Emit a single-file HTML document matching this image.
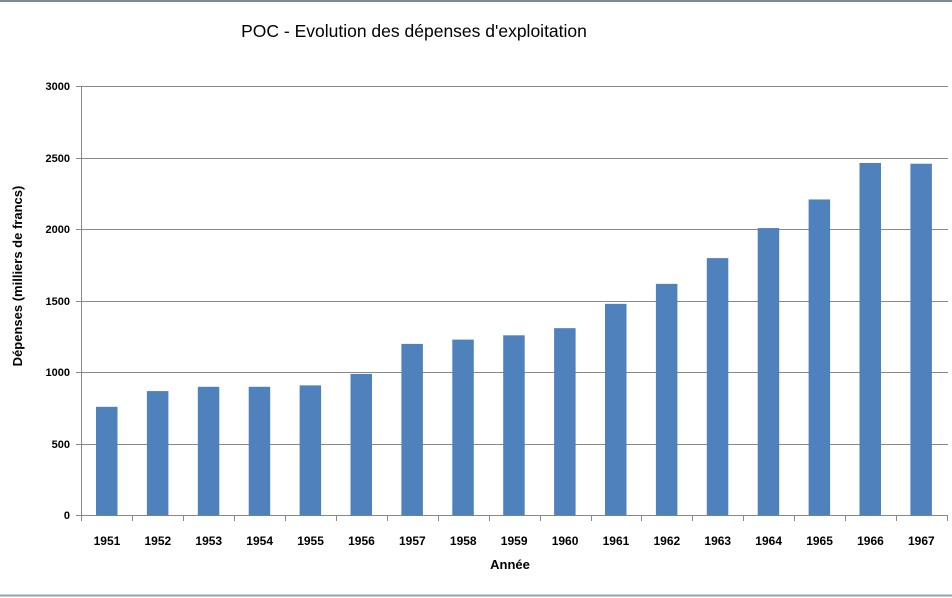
<!DOCTYPE html>
<html><head><meta charset="utf-8"><style>
html,body{margin:0;padding:0;background:#fff;}
svg{display:block;font-family:"Liberation Sans","DejaVu Sans",sans-serif;}
</style></head><body>
<svg width="952" height="598" viewBox="0 0 952 598" xmlns="http://www.w3.org/2000/svg">
<rect width="952" height="598" fill="#fff"/>
<line x1="0" y1="1" x2="952" y2="1" stroke="#7a8a99" stroke-width="2"/>
<line x1="0" y1="595.5" x2="952" y2="595.5" stroke="#8fa3b0" stroke-width="2"/>
<text x="414" y="37" font-size="17.5" text-anchor="middle" fill="#000">POC - Evolution des dépenses d'exploitation</text>
<g stroke="#888" stroke-width="1">
<line x1="76" y1="86.5" x2="948" y2="86.5"/>
<line x1="76" y1="158.5" x2="948" y2="158.5"/>
<line x1="76" y1="229.5" x2="948" y2="229.5"/>
<line x1="76" y1="301.5" x2="948" y2="301.5"/>
<line x1="76" y1="372.5" x2="948" y2="372.5"/>
<line x1="76" y1="444.5" x2="948" y2="444.5"/>
<line x1="76" y1="515.5" x2="948" y2="515.5"/>
<line x1="81.5" y1="86" x2="81.5" y2="516"/>
</g>
<g font-size="11" font-weight="bold" text-anchor="end" fill="#000">
<text x="70" y="90">3000</text><text x="70" y="162">2500</text><text x="70" y="233">2000</text>
<text x="70" y="305">1500</text><text x="70" y="376">1000</text><text x="70" y="448">500</text><text x="70" y="519">0</text>
</g>
<g id="bars" fill="#4f81bd"></g>
<g id="ticks" stroke="#888"></g>
<g id="labels" font-size="12" font-weight="bold" text-anchor="middle" fill="#000"></g>
<text x="510" y="569" font-size="13" font-weight="bold" text-anchor="middle">Année</text>
<text transform="translate(22,276) rotate(-90)" font-size="13" font-weight="bold" text-anchor="middle">Dépenses (milliers de francs)</text>
<script>
var vals=[760,870,900,900,910,990,1200,1230,1260,1310,1480,1620,1800,2010,2210,2465,2460];
var ns="http://www.w3.org/2000/svg",w=50.9,x0=81.5,y0=515.5,s=429/3000;
var b=document.getElementById('bars'),t=document.getElementById('ticks'),l=document.getElementById('labels');
for(var i=0;i<17;i++){
 var r=document.createElementNS(ns,'rect');var h=vals[i]*s;
 r.setAttribute('x',x0+i*w+14.5);r.setAttribute('width',21.5);r.setAttribute('y',y0-h);r.setAttribute('height',h);b.appendChild(r);
 var ln=document.createElementNS(ns,'line');var tx=Math.round(x0+(i+1)*w)+0.5;
 ln.setAttribute('x1',tx);ln.setAttribute('x2',tx);ln.setAttribute('y1',515);ln.setAttribute('y2',521);t.appendChild(ln);
 var tt=document.createElementNS(ns,'text');tt.setAttribute('x',x0+i*w+w/2);tt.setAttribute('y',545);tt.textContent=1951+i;l.appendChild(tt);
}
var ln0=document.createElementNS(ns,'line');ln0.setAttribute('x1',81.5);ln0.setAttribute('x2',81.5);ln0.setAttribute('y1',515);ln0.setAttribute('y2',521);t.appendChild(ln0);
</script>
</svg>
</body></html>
